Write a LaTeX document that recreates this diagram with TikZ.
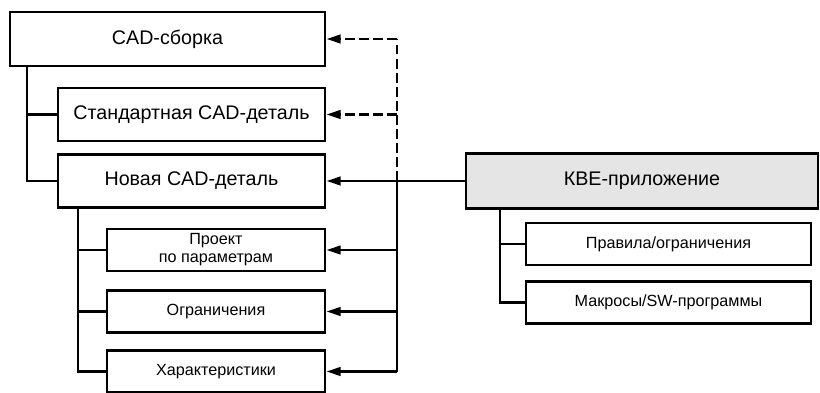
\documentclass[tikz,border=0pt]{standalone}
\usepackage{fontspec}
\setmainfont{Liberation Sans}
\usepackage{xcolor}
\usetikzlibrary{arrows.meta}
\definecolor{kbegray}{gray}{0.9}

\begin{document}
\begin{tikzpicture}[x=0.025cm,y=-0.025cm,
	box/.style={draw,line width=2pt,inner sep=0pt,align=center},
	bigbox/.style={box,font=\fontsize{14}{16}\selectfont},
	smallbox/.style={box,font=\fontsize{11.5}{12.8}\selectfont},
	link/.style={line width=1.8pt},
	arr/.style={link,-{Triangle[length=10pt,width=6pt]}},
	dlink/.style={dash pattern=on 7pt off 3pt}]
\useasboundingbox (0,0) rectangle (820,393);
% CAD side
	\node[bigbox,minimum width=7.875cm,minimum height=1.35cm] (asm) at (167.5,39) {CAD-сборка};
	\node[bigbox,minimum width=6.675cm,minimum height=1.325cm] (std) at (191.5,114.5) {Стандартная CAD-деталь};
	\node[bigbox,minimum width=6.675cm,minimum height=1.325cm] (new) at (191.5,181) {Новая CAD-деталь};
	\node[smallbox,minimum width=5.45cm,minimum height=1.05cm] (prj) at (216,250) {Проект\\по параметрам};
	\node[smallbox,minimum width=5.45cm,minimum height=1.05cm] (con) at (216,311.5) {Ограничения};
	\node[smallbox,minimum width=5.45cm,minimum height=1.05cm] (chr) at (216,371.5) {Характеристики};
% KBE side
	\node[bigbox,fill=kbegray,minimum width=8.8cm,minimum height=1.375cm] (kbe) at (642,181) {КВЕ-приложение};
	\node[smallbox,minimum width=7.125cm,minimum height=1.05cm] (rul) at (668.5,244) {Правила/ограничения};
	\node[smallbox,minimum width=7.125cm,minimum height=1.03cm] (mac) at (668.5,302.5) {Макросы/SW-программы};
% trees
	\coordinate (T1) at (27,181);
	\coordinate (T2) at (78,371.5);
	\coordinate (T3) at (500,302.5);
	\draw[link] (asm.south -| T1) -- (T1) -- (new.west);
	\draw[link] (std.west -| T1) -- (std.west);
	\draw[link] (new.south -| T2) -- (T2) -- (chr.west);
	\draw[link] (prj.west -| T2) -- (prj.west);
	\draw[link] (con.west -| T2) -- (con.west);
	\draw[link] (kbe.south -| T3) -- (T3) -- (mac.west);
	\draw[link] (rul.west -| T3) -- (rul.west);
% links from KBE
	\coordinate (B) at (397,181);
	\draw[arr] (kbe.west) -- (new.east);
	\draw[link] (B) -- (chr.east -| B);
	\draw[arr] (chr.east -| B) -- (chr.east);
	\draw[arr] (prj.east -| B) -- (prj.east);
	\draw[arr] (con.east -| B) -- (con.east);
	\draw[link,dlink] (B) -- (asm.east -| B);
	\draw[arr,dlink] (asm.east -| B) -- (asm.east);
	\draw[arr,dlink] (std.east -| B) -- (std.east);
\end{tikzpicture}
\end{document}
